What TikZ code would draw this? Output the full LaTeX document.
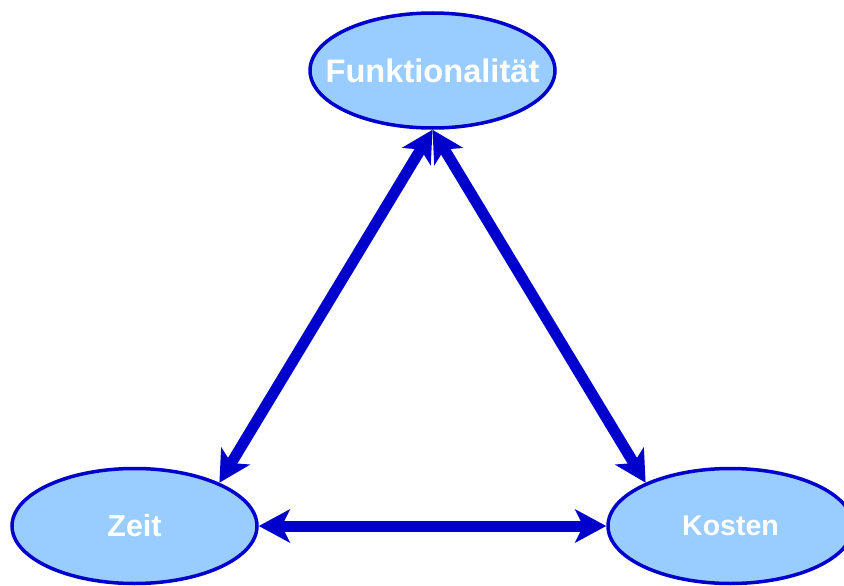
\documentclass[tikz,border=0pt]{standalone}
\usepackage{fontspec}
\setmainfont{Liberation Sans}
\usetikzlibrary{shapes.geometric,arrows.meta}
\definecolor{edgeblue}{RGB}{0,0,204}
\definecolor{fillblue}{RGB}{153,204,255}
% label centred without widening the ellipse around it
\newcommand{\goaltext}[2]{\makebox[0pt]{\fontsize{#1}{#1}\selectfont #2}}
\begin{document}
\begin{tikzpicture}[x=1pt,y=-1pt,
  goal/.style={ellipse,draw=edgeblue,fill=fillblue,line width=3.5pt,
    minimum width=245pt,minimum height=115pt,inner sep=0pt,
    text=white,font=\bfseries},
  link/.style={draw=edgeblue,line width=11pt,
    {Stealth[length=31pt,width=33pt,inset=8pt]}-{Stealth[length=31pt,width=33pt,inset=8pt]}}]
  \useasboundingbox (0,0) rectangle (844,586);
  \node[goal] (f) at (432.5,70.5) {\goaltext{32.6}{Funktionalität}};
  \node[goal] (z) at (134.5,526) {\goaltext{30.5}{Zeit}};
  \node[goal] (k) at (730.5,526) {\goaltext{28.5}{Kosten}};
  \draw[link] (z.27) -- (f.south);
  \draw[link] (f.south) -- (k.153);
  \draw[link] (z.east) -- (k.west);
\end{tikzpicture}
\end{document}
